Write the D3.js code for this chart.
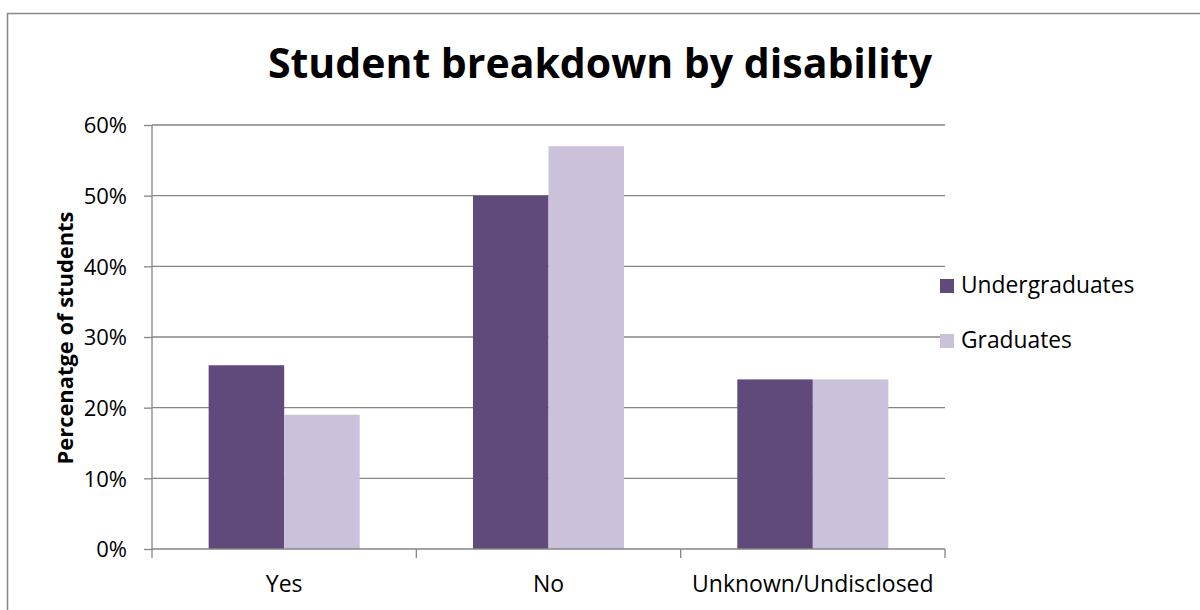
<!DOCTYPE html>
<html><head><meta charset="utf-8">
<script src="https://cdn.jsdelivr.net/npm/d3@7"></script>
<style>body{margin:0;background:#fff}svg{display:block}text{font-family:"Open Sans",sans-serif}</style>
</head><body>
<svg id="c" width="1200" height="610"></svg>
<script>
const categories = ["Yes", "No", "Unknown/Undisclosed"];
const seriesNames = ["Undergraduates", "Graduates"];
const undergraduates = [0.26, 0.50, 0.24];
const graduates = [0.19, 0.57, 0.24];
const yTicks = [0, 0.1, 0.2, 0.3, 0.4, 0.5, 0.6];
const colors = ["#604A7B", "#CCC1DA"];

const svg = d3.select("#c");
svg.append("rect").attr("x",7.5).attr("y",13.5).attr("width",1300).attr("height",700)
  .attr("fill","#fff").attr("stroke","#888").attr("stroke-width",1.5);

const pL=152, pR=945, pT=125, pB=549;
const x0 = d3.scaleBand().domain(categories).range([pL,pR]).padding(0);
const x1 = d3.scaleBand().domain(seriesNames).range([0,x0.bandwidth()]).paddingInner(0).paddingOuter(0.75);
const y = d3.scaleLinear().domain([0,0.6]).range([pB,pT]);

// gridlines
svg.append("g").selectAll("line").data(yTicks.filter(d=>d>0)).join("line")
  .attr("x1",pL).attr("x2",pR).attr("y1",d=>y(d)).attr("y2",d=>y(d))
  .attr("stroke","#868686").attr("stroke-width",1.3);

// bars
const data = categories.map((c,i)=>({c, vals:[undergraduates[i], graduates[i]]}));
const g = svg.append("g");
data.forEach(d=>{
  d.vals.forEach((v,j)=>{
    g.append("rect").attr("x",x0(d.c)+x1(seriesNames[j])).attr("width",x1.bandwidth())
      .attr("y",y(v)).attr("height",y(0)-y(v)).attr("fill",colors[j]);
  });
});

// y axis
const yAxis = d3.axisLeft(y).tickValues(yTicks).tickFormat(d3.format(".0%")).tickSize(8).tickPadding(17);
const ya = svg.append("g").attr("transform",`translate(${pL},0)`).call(yAxis);
ya.attr("font-family",null).attr("font-size",null);
ya.select(".domain").attr("stroke","#868686").attr("stroke-width",1.3).attr("d",`M0,${pT}V${pB+1}`);
ya.selectAll(".tick line").attr("stroke","#868686").attr("stroke-width",1.3);
ya.selectAll(".tick text").attr("font-size",22).attr("fill","#000").attr("dy","0.36em");

// x axis
const xa = svg.append("g").attr("transform",`translate(0,${pB})`);
xa.append("line").attr("x1",pL).attr("x2",pR).attr("stroke","#868686").attr("stroke-width",1.3);
const bounds = [pL, ...categories.map(c=>x0(c)+x0.bandwidth())];
xa.selectAll("line.t").data(bounds).join("line").attr("class","t")
  .attr("x1",d=>d).attr("x2",d=>d).attr("y1",0).attr("y2",9).attr("stroke","#868686").attr("stroke-width",1.3);
xa.selectAll("text").data(categories).join("text")
  .attr("x",d=>x0(d)+x0.bandwidth()/2).attr("y",43).attr("text-anchor","middle")
  .attr("font-size",23).attr("fill","#000").text(d=>d);

// title
svg.append("text").attr("x",600).attr("y",78).attr("text-anchor","middle")
  .attr("font-size",41).attr("font-weight","bold").attr("fill","#000")
  .text("Student breakdown by disability");

// y title
svg.append("text").attr("transform","translate(73,338) rotate(-90)").attr("text-anchor","middle")
  .attr("font-size",20.5).attr("font-weight","bold").attr("fill","#000")
  .attr("textLength",253).attr("lengthAdjust","spacingAndGlyphs").text("Percenatge of students");

// legend
const lg = svg.append("g");
seriesNames.forEach((s,i)=>{
  const yy = 286 + i*55;
  lg.append("rect").attr("x",940).attr("y",yy-7).attr("width",14).attr("height",14).attr("fill",colors[i]);
  lg.append("text").attr("x",961).attr("y",yy+7).attr("font-size",22.8).attr("fill","#000").text(s);
});
</script>
</body></html>
